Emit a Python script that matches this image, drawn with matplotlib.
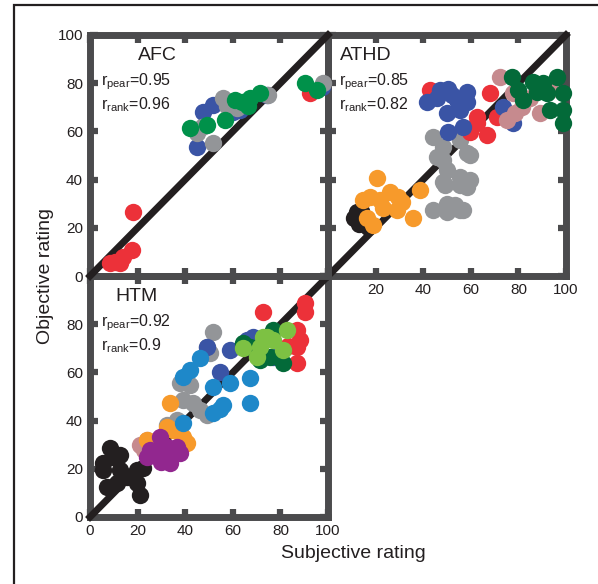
import matplotlib
matplotlib.use('Agg')
import matplotlib.pyplot as plt
from matplotlib.patches import Rectangle

plt.rcParams['font.family'] = ['Liberation Sans', 'DejaVu Sans']
plt.rcParams['mathtext.default'] = 'regular'

# colours used for the groups
RED = '#ec3139'
BLUE = '#3a54a5'
GRAY = '#939598'
GREEN = '#00914a'
DKGREEN = '#036a39'
PINK = '#c68a8e'
ORANGE = '#f79a2b'
BLACK = '#231f20'
LTBLUE = '#1e88c9'
LTGREEN = '#7dc143'
PURPLE = '#92278f'
FRAME = '#4b4b4d'

# ---- AFC panel: (subjective, objective) ----
afc_red = ([18.2, 17.5, 14, 10.5, 8.4, 12.6, 11.2, 92.4],
           [26.7, 10.8, 8, 5.9, 5.3, 5.3, 5.9, 76])
afc_blue = ([44.8, 47.6, 51.8, 74.2, 63, 97.3, 60],
            [53.7, 68.2, 71, 75.1, 69, 78.5, 68])
afc_gray = ([51.8, 44.8, 56, 57.4, 61.6, 74.9, 98, 64.4, 47],
            [55, 59.2, 73.7, 70.5, 69.6, 75, 80, 71, 62])
afc_green = ([42, 49, 56.7, 60.9, 63.7, 67.2, 71.4, 66.4, 90.3, 95.2],
             [61.3, 62.7, 64.7, 73, 72.3, 73.7, 75.8, 70.5, 80, 77.2])

# ---- ATHD panel ----
athd_black = ([11, 12, 14, 13, 16, 17, 15],
              [24, 26.5, 27, 21.5, 22, 20.5, 24.5])
athd_orange = ([20.4, 17.6, 26, 29.5, 38.7, 23.2, 28.9, 35.8, 19, 14.8, 16.3, 30.9, 21.8],
               [40.5, 32.9, 35, 32.9, 35.7, 28.1, 27.4, 23.9, 21.2, 31.5, 23.9, 30.9, 31.5])
athd_gray = ([44.2, 48.5, 55.5, 58.3, 48.5, 49.9, 55.5, 59.7, 48.5, 55.5,
              44.2, 50, 55.5, 49.9, 56.9, 58.3, 45.7, 59.7, 53.4, 49.2],
             [57.8, 53.7, 56.4, 50.9, 48, 44, 41.2, 40, 38.9, 37.6,
              27.4, 30, 27.4, 26.7, 27.4, 37, 49.5, 50.2, 29.3, 37.8])
athd_red = ([42.9, 62.5, 66.7, 59.7, 68.1, 70.9, 62.5, 44],
            [77.2, 63.4, 58.5, 59.9, 75.8, 66.1, 66, 74.5])
athd_blue = ([41.5, 47, 50.6, 54.1, 58.3, 58.3, 49.9, 55.5, 50.6, 56.9, 73.7, 77.9, 52, 46],
             [72.3, 77.2, 77.8, 73, 76.5, 72.3, 67.5, 69, 59.9, 62, 70.2, 63.4, 75, 74])
athd_pink = ([72.3, 77.9, 78.6, 81.4, 84.9, 89.1, 93.3, 75.1],
             [82.7, 75.8, 67.5, 70.2, 73.7, 67.5, 77.2, 64.8])
athd_dkgreen = ([77.2, 80, 82.1, 86.3, 90.5, 96.1, 98.9, 91.9, 93.3, 98.9, 98.9, 87.7],
                [82.7, 77.2, 73, 80.6, 80, 82.7, 75.8, 75.8, 68.9, 68.9, 63.4, 76.5])

# ---- HTM panel ----
htm_black = ([8.4, 5.6, 9.8, 12.6, 7, 19.6, 22.4, 19.6, 21, 15.4, 11.2, 12.6, 5.6],
             [28.5, 22.3, 25, 19.5, 12.6, 19.5, 20.2, 14, 9.1, 16.7, 14, 25.7, 19.6])
htm_gray = ([51.8, 49, 50.4, 37.8, 42, 39.2, 43.4, 46.2, 49, 32.2, 36.4],
            [76.9, 70.7, 67.9, 55.5, 54.8, 48.5, 47.2, 44.4, 42.3, 38.2, 40.2])
htm_pink = ([21, 23.8, 22.5], [29.9, 31.9, 28])
htm_orange = ([33.6, 32.2, 40.6, 37.8, 23.8, 39.2, 35],
              [47.2, 37.5, 30.6, 34.7, 32, 33, 36])
htm_purple = ([23.8, 29.4, 33.6, 37.8, 28, 32.2, 36.4, 25.2, 30],
              [25, 33.3, 22.3, 26.4, 26.4, 29.2, 29.2, 27.8, 23])
htm_blue = ([54.6, 58.8, 49, 65.8, 68.6, 77],
            [60.3, 69.3, 70.7, 73.4, 74.8, 66.5])
htm_red = ([72.8, 90.3, 90.3, 86.8, 86.8, 88.2, 86.8, 83],
           [85.2, 88.7, 85.2, 77.6, 70.7, 73.5, 63.8, 71])
htm_dkgreen = ([77, 64.4, 71.4, 81.2, 75.6, 67.2],
               [77.6, 72.1, 65.1, 63.8, 66.5, 70.7])
htm_ltblue = ([46.2, 42, 39.2, 51.8, 58.8, 67.2, 67.2, 56, 51.8, 39.2, 54.6],
              [65.8, 61, 58.1, 54, 55.5, 57.5, 47.2, 46.5, 43, 38.9, 45])
htm_ltgreen = ([82.6, 81.2, 72.8, 77, 71.4, 64.4, 70, 74.2],
               [77.6, 69.3, 74.8, 73.5, 70.7, 70, 66.5, 74.8])

ticks = [0, 20, 40, 60, 80, 100]
afc_r = ('0.95', '0.96')
athd_r = ('0.85', '0.82')
htm_r = ('0.92', '0.9')

W, H = 598, 584


def make_axes(fig, left, top, right, bottom):
    ax = fig.add_axes([left / W, 1 - bottom / H, (right - left) / W, (bottom - top) / H])
    ax.set_facecolor('none')
    ax.set_xlim(0, 100)
    ax.set_ylim(0, 100)
    ax.set_xticks(ticks)
    ax.set_yticks(ticks)
    for sp in ax.spines.values():
        sp.set_linewidth(5)
        sp.set_color(FRAME)
    ax.tick_params(direction='in', length=5.5, width=4.5, color=FRAME,
                   top=True, right=True, labelsize=11, pad=5,
                   labelcolor='#231f20')
    # identity line
    ax.plot([0, 100], [0, 100], color=BLACK, lw=5, clip_on=False,
            solid_capstyle='projecting', zorder=3)
    return ax


def draw_groups(ax, groups):
    for (xs, ys), c in groups:
        ax.plot(xs, ys, 'o', ms=12.5, color=c, mec='none', clip_on=False, zorder=4)


def annotate(ax, name, x, r_vals):
    ax.text(x, 91.5, name, fontsize=14, ha='left', va='center', color='#231f20', zorder=6)
    ax.text(4.5, 79, r'$r_{pear}$=' + r_vals[0], fontsize=11.5, ha='left',
            va='baseline', color='#231f20', zorder=6)
    ax.text(4.5, 69.2, r'$r_{rank}$=' + r_vals[1], fontsize=11.5, ha='left',
            va='baseline', color='#231f20', zorder=6)


fig = plt.figure(figsize=(W / 100, H / 100), dpi=100)

# outer border (only left and top edges visible)
fig.patches.append(Rectangle((14 / W, -0.1), 1.2, 1 - 5 / H + 0.1,
                             transform=fig.transFigure, fill=False,
                             lw=1.6, edgecolor=BLACK))

ax_htm = make_axes(fig, 90, 276, 328, 517)
ax_athd = make_axes(fig, 328, 35, 566, 276)
ax_afc = make_axes(fig, 90, 35, 328, 276)

# AFC
draw_groups(ax_afc, [(afc_red, RED), (afc_blue, BLUE), (afc_gray, GRAY), (afc_green, GREEN)])
ax_afc.set_xticklabels([])
annotate(ax_afc, 'AFC', 20, afc_r)

# ATHD
draw_groups(ax_athd, [(athd_black, BLACK), (athd_orange, ORANGE), (athd_gray, GRAY),
                      (athd_red, RED), (athd_blue, BLUE), (athd_pink, PINK),
                      (athd_dkgreen, DKGREEN)])
ax_athd.set_yticklabels([])
ax_athd.set_xticklabels([''] + [str(t) for t in ticks[1:]])
annotate(ax_athd, 'ATHD', 5, athd_r)

# HTM
draw_groups(ax_htm, [(htm_black, BLACK), (htm_gray, GRAY), (htm_pink, PINK),
                     (htm_orange, ORANGE), (htm_purple, PURPLE), (htm_blue, BLUE),
                     (htm_red, RED), (htm_dkgreen, DKGREEN), (htm_ltblue, LTBLUE),
                     (htm_ltgreen, LTGREEN)])
ax_htm.set_yticklabels([str(t) for t in ticks[:-1]] + [''])
annotate(ax_htm, 'HTM', 10.5, htm_r)

fig.text(45 / W, 1 - 276 / H, 'Objective rating', rotation=90, fontsize=14,
         ha='center', va='center', color='#231f20')
fig.text(353 / W, 1 - 553 / H, 'Subjective rating', fontsize=14,
         ha='center', va='center', color='#231f20')

fig.savefig('out.png', dpi=100)
